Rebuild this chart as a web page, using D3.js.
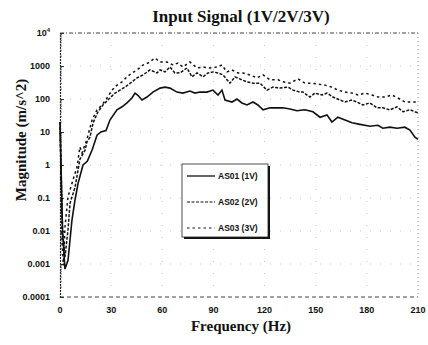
<!DOCTYPE html>
<html>
<head>
<meta charset="utf-8">
<script src="https://cdn.jsdelivr.net/npm/d3@7"></script>
<style>
  body { margin: 0; background: #fff; }
  .tick-lbl { font-family: "Liberation Sans", Arial, sans-serif; font-weight: bold; font-size: 9px; fill: #111; }
  .ttl { font-family: "Liberation Serif", "Times New Roman", serif; font-weight: bold; fill: #111; }
</style>
</head>
<body>
<div id="chart"></div>
<script>
// values
const yTicks = [0.0001, 0.001, 0.01, 0.1, 1, 10, 100, 1000, 10000];
const yTickLabels = ['0.0001', '0.001', '0.01', '0.1', '1', '10', '100', '1000', '10^4'];
const xTicks = [0, 30, 60, 90, 120, 150, 180, 210];

const as01Freq = [0, 1.5, 2.9, 4.7, 7, 8.8, 10.6, 13.5, 16, 19, 21.7, 24, 27, 29.3, 33.4, 36.4, 39.3, 42.2, 44, 45.7, 48.1, 51, 54.5, 58.7, 61.6, 64.5, 68.6, 72.1, 76.2, 79.2, 82.1, 86.2, 89.7, 92.7, 95, 96.8, 100.9, 103.8, 106.7, 109.7, 113.2, 116.1, 119.1, 123.2, 127.3, 130.8, 134.9, 139, 143.7, 148.4, 152.5, 156.6, 159.5, 163, 167.2, 171.3, 176, 181.8, 186.5, 189.4, 193.5, 197.7, 202.3, 205.3, 208.2, 210];
const as01Mag = [20, 0.01, 0.0007, 0.0013, 0.021, 0.087, 0.28, 1, 1.3, 3, 8, 10, 11, 23, 47, 58, 76, 107, 150, 130, 93, 115, 162, 214, 229, 214, 162, 151, 174, 151, 162, 162, 186, 132, 186, 93, 81, 100, 76, 66, 81, 66, 47, 54, 54, 54, 50, 44, 47, 41, 28, 33, 20, 28, 23, 19, 17, 15, 16, 13, 14, 13, 14, 11.5, 7, 6];

const as02Freq = [0, 1.5, 2.9, 4.7, 5.9, 8.8, 11.7, 14.7, 15.8, 17.6, 19.4, 22.3, 25.2, 29.3, 32.3, 35.2, 38.1, 42.2, 45.2, 48.7, 52.8, 56.9, 58.7, 61.6, 64.5, 67.4, 70.4, 74.5, 77.4, 80.4, 83.9, 86.8, 89.7, 92.7, 95.6, 99.7, 102.6, 106.7, 109.7, 113.2, 117.3, 121.4, 124.9, 129, 133.7, 136.7, 140.8, 142.5, 146.6, 149.6, 153.7, 156.6, 160.1, 164.2, 167.2, 171.3, 174.2, 177.7, 181.8, 185.9, 189.4, 193.5, 197.7, 201.2, 205.3, 208.2, 210];
const as02Mag = [20, 0.01, 0.0016, 0.011, 0.07, 0.21, 1.5, 2.8, 5, 7, 19, 41, 66, 107, 151, 186, 229, 331, 437, 537, 759, 617, 759, 661, 933, 617, 620, 871, 468, 617, 468, 617, 661, 617, 537, 302, 468, 380, 331, 302, 302, 186, 229, 214, 229, 186, 162, 162, 115, 151, 132, 151, 115, 93, 81, 93, 81, 66, 76, 54, 54, 47, 58, 41, 47, 41, 38];

const as03Freq = [0, 1.2, 2, 2.9, 4.7, 7.6, 10, 11.7, 12.9, 15.8, 18.8, 21.7, 24.6, 27.6, 30.5, 33.4, 36.4, 39.3, 42.2, 45.2, 48.7, 51.6, 55.7, 58.7, 62.8, 66.3, 69.2, 72.1, 76.2, 80.4, 83.9, 88, 92.1, 95, 97.9, 100.9, 104.4, 107.3, 111.4, 115.5, 119.1, 123.2, 127.9, 130.8, 134.9, 139.6, 143.7, 147.8, 151.3, 155.4, 159.5, 163, 167.2, 171.3, 174.8, 178.9, 183, 186.5, 190.6, 194.7, 198.2, 202.3, 206.5, 210];
const as03Mag = [20, 0.005, 0.0009, 0.013, 0.11, 0.35, 0.87, 3.5, 2.3, 6, 23, 47, 66, 107, 186, 263, 331, 468, 617, 759, 1070, 1230, 1740, 1320, 1320, 1070, 1230, 933, 1320, 871, 933, 871, 933, 1070, 661, 759, 617, 617, 537, 437, 537, 380, 380, 331, 302, 407, 302, 302, 282, 263, 229, 186, 162, 151, 132, 151, 132, 115, 115, 132, 107, 81, 81, 81];

const seriesNames = ['AS01 (1V)', 'AS02 (2V)', 'AS03 (3V)'];

const width = 428, height = 345;
const margin = { top: 33, right: 10, bottom: 48, left: 60 };

const svg = d3.select('#chart').append('svg')
  .attr('width', width)
  .attr('height', height);

const x = d3.scaleLinear().domain([0, 210]).range([margin.left, width - margin.right]);
const y = d3.scaleLog().domain([0.0001, 10000]).range([height - margin.bottom, margin.top]);

// faint dotted grid
svg.append('g').selectAll('line.hg')
  .data(yTicks.slice(1, -1))
  .enter().append('line')
  .attr('x1', x(0)).attr('x2', x(210))
  .attr('y1', d => y(d)).attr('y2', d => y(d))
  .attr('stroke', '#bbb').attr('stroke-width', 0.8).attr('stroke-dasharray', '1,9');

svg.append('g').selectAll('line.vg')
  .data(xTicks.slice(1, -1))
  .enter().append('line')
  .attr('x1', d => x(d)).attr('x2', d => x(d))
  .attr('y1', y(10000)).attr('y2', y(0.0001))
  .attr('stroke', '#bbb').attr('stroke-width', 0.8).attr('stroke-dasharray', '1,11');

// frame: top, right, bottom dotted
svg.append('line').attr('x1', x(0)).attr('x2', x(210)).attr('y1', y(10000)).attr('y2', y(10000))
  .attr('stroke', '#444').attr('stroke-width', 1).attr('stroke-dasharray', '4,2,1,2');
svg.append('line').attr('x1', x(0)).attr('x2', x(210)).attr('y1', y(0.0001)).attr('y2', y(0.0001))
  .attr('stroke', '#444').attr('stroke-width', 1).attr('stroke-dasharray', '4,3');
svg.append('line').attr('x1', x(210)).attr('x2', x(210)).attr('y1', y(10000)).attr('y2', y(0.0001))
  .attr('stroke', '#999').attr('stroke-width', 1).attr('stroke-dasharray', '1,3');

// left axis with inward ticks
const yAxis = d3.axisRight(y)
  .tickValues(yTicks)
  .tickSize(4)
  .tickFormat('');
const ga = svg.append('g').attr('transform', `translate(${x(0)},0)`).call(yAxis);
ga.select('.domain').attr('stroke', '#222').attr('stroke-width', 1.2).attr('stroke-dasharray', '2,1');
ga.selectAll('.tick line').attr('stroke', '#333');

// minor ticks
const minors = [];
for (let e = -4; e < 4; e++) for (let m = 2; m < 10; m++) minors.push(m * Math.pow(10, e));
svg.append('g').selectAll('line')
  .data(minors).enter().append('line')
  .attr('x1', x(0)).attr('x2', x(0) + 2)
  .attr('y1', d => y(d)).attr('y2', d => y(d))
  .attr('stroke', '#555').attr('stroke-width', 0.8);

// y tick labels
const yl = svg.append('g').selectAll('text')
  .data(yTicks).enter().append('text')
  .attr('class', 'tick-lbl')
  .attr('x', x(0) - 10)
  .attr('y', d => y(d) + 3)
  .attr('text-anchor', 'end');
yl.each(function(d, i) {
  const t = d3.select(this);
  if (yTickLabels[i] === '10^4') {
    t.append('tspan').text('10');
    t.append('tspan').attr('dy', -4).attr('font-size', '6px').text('4');
  } else {
    t.text(yTickLabels[i]);
  }
});

// x tick labels
svg.append('g').selectAll('text')
  .data(xTicks).enter().append('text')
  .attr('class', 'tick-lbl')
  .attr('x', d => x(d))
  .attr('y', 313)
  .attr('text-anchor', 'middle')
  .text(d => d);

// titles
svg.append('text').attr('class', 'ttl')
  .attr('x', 241).attr('y', 22)
  .attr('text-anchor', 'middle')
  .style('font-size', '17px')
  .text('Input Signal (1V/2V/3V)');

svg.append('text').attr('class', 'ttl')
  .attr('x', 241).attr('y', 331)
  .attr('text-anchor', 'middle')
  .style('font-size', '15px')
  .text('Frequency (Hz)');

svg.append('text').attr('class', 'ttl')
  .attr('transform', 'translate(26,140) rotate(-90)')
  .attr('text-anchor', 'middle')
  .style('font-size', '15px')
  .text('Magnitude (m/s^2)');

// series
const line = d3.line().x(d => x(d[0])).y(d => y(d[1]));
const series = [
  { name: seriesNames[0], pts: d3.zip(as01Freq, as01Mag), dash: null, w: 1.6 },
  { name: seriesNames[1], pts: d3.zip(as02Freq, as02Mag), dash: '3,1.5', w: 1.5 },
  { name: seriesNames[2], pts: d3.zip(as03Freq, as03Mag), dash: '2.5,3', w: 1.5 }
];

svg.append('g').selectAll('path')
  .data(series).enter().append('path')
  .attr('d', d => line(d.pts))
  .attr('fill', 'none')
  .attr('stroke', '#111')
  .attr('stroke-width', d => d.w)
  .attr('stroke-dasharray', d => d.dash);

// legend
const lg = svg.append('g').attr('transform', 'translate(182,164)');
lg.append('rect').attr('x', 2).attr('y', 2).attr('width', 86).attr('height', 73).attr('fill', '#111');
lg.append('rect').attr('x', 0).attr('y', 0).attr('width', 86).attr('height', 73)
  .attr('fill', '#fff').attr('stroke', '#222').attr('stroke-width', 0.8);
const rows = lg.selectAll('g.row').data(series).enter().append('g')
  .attr('transform', (d, i) => `translate(0,${12 + i * 26})`);
rows.append('line').attr('x1', 5).attr('x2', 33).attr('y1', 0).attr('y2', 0)
  .attr('stroke', '#111').attr('stroke-width', d => d.w - 0.3)
  .attr('stroke-dasharray', d => d.dash);
rows.append('text').attr('class', 'tick-lbl')
  .attr('x', 36).attr('y', 3)
  .style('font-size', '8.5px')
  .text(d => d.name);
</script>
</body>
</html>
